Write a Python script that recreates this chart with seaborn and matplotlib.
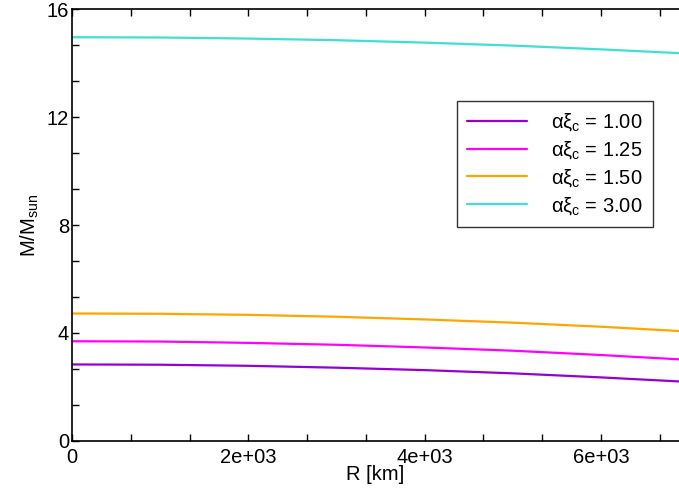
import numpy as np
import pandas as pd
import matplotlib
matplotlib.use("Agg")
import matplotlib.pyplot as plt
from matplotlib.ticker import MultipleLocator, AutoMinorLocator
import seaborn as sns

# radius grid [km] and masses [M_sun]
radius = [0, 1000, 2000, 3000, 4000, 5000, 6000, 6886]
mass_100 = [2.83, 2.82, 2.78, 2.71, 2.62, 2.50, 2.35, 2.20]
mass_125 = [3.69, 3.68, 3.63, 3.56, 3.46, 3.34, 3.18, 3.02]
mass_150 = [4.72, 4.71, 4.67, 4.60, 4.50, 4.38, 4.23, 4.07]
mass_300 = [14.97, 14.96, 14.92, 14.86, 14.77, 14.66, 14.52, 14.38]

labels = [r"$\alpha\xi_c$ = 1.00", r"$\alpha\xi_c$ = 1.25",
          r"$\alpha\xi_c$ = 1.50", r"$\alpha\xi_c$ = 3.00"]
colors = ["#9400D3", "#FF00FF", "#FFA500", "#40E0D0"]

# build long-form table for seaborn
frames = []
for lab, m in zip(labels, [mass_100, mass_125, mass_150, mass_300]):
    frames.append(pd.DataFrame({"R": radius, "M": m, "case": lab}))
df = pd.concat(frames, ignore_index=True)

sns.set_style("ticks")
plt.rcParams["font.family"] = ["Liberation Sans", "DejaVu Sans"]
plt.rcParams["mathtext.fontset"] = "custom"
plt.rcParams["mathtext.rm"] = "Liberation Sans"
plt.rcParams["mathtext.it"] = "Liberation Sans"
plt.rcParams["mathtext.sf"] = "Liberation Sans"
plt.rcParams["text.color"] = "black"
plt.rcParams["axes.labelcolor"] = "black"
plt.rcParams["xtick.color"] = "black"
plt.rcParams["ytick.color"] = "black"

fig = plt.figure(figsize=(6.79, 4.98), dpi=100)
ax = fig.add_axes([0.106, 0.115, 0.894, 0.866])

sns.lineplot(data=df, x="R", y="M", hue="case", palette=colors,
             linewidth=1.6, ax=ax, legend=False)

ax.set_xlim(0, 6886)
ax.set_ylim(0, 16)
ax.xaxis.set_major_locator(MultipleLocator(2000))
ax.xaxis.set_minor_locator(AutoMinorLocator(3))
ax.yaxis.set_major_locator(MultipleLocator(4))
ax.yaxis.set_minor_locator(AutoMinorLocator(3))
ax.set_xticks([0, 2000, 4000, 6000])
ax.set_xticklabels(["0", "2e+03", "4e+03", "6e+03"])

ax.tick_params(which="both", direction="in", top=True, right=False,
               length=5, width=1, labelsize=14.5, pad=2)
ax.tick_params(axis="x", which="both", pad=5)
for s in ax.spines.values():
    s.set_linewidth(1.2)
    s.set_color("black")
ax.spines["right"].set_visible(False)

ax.set_xlabel("R [km]", fontsize=14.5, labelpad=-1)
ax.set_ylabel(r"M/M$_{\rm sun}$", fontsize=14.5, labelpad=4)

handles = [plt.Line2D([], [], color=c, linewidth=1.6) for c in colors]
leg = ax.legend(handles, labels, loc="upper right",
                bbox_to_anchor=(0.957, 0.787), borderaxespad=0,
                fontsize=14.5, frameon=True, fancybox=False,
                handlelength=3.0, handletextpad=1.2, labelspacing=0.3,
                borderpad=0.5)
leg.get_frame().set_edgecolor("black")
leg.get_frame().set_linewidth(1.0)

fig.savefig("out.png", dpi=100)
